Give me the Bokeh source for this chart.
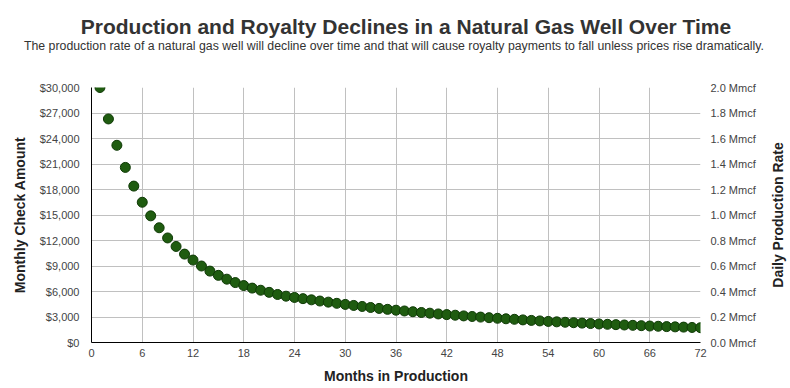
from bokeh.plotting import figure
from bokeh.models import (Range1d, LinearAxis, FixedTicker, NumeralTickFormatter,
                          PrintfTickFormatter, Div)
from bokeh.layouts import column, row
from bokeh.embed import file_html
from bokeh.resources import INLINE

months = list(range(1, 73))
check_amount = [
    30000, 26300, 23200, 20600, 18400, 16500, 14900, 13500, 12300, 11300,
    10400, 9700, 9000, 8400, 7900, 7450, 7050, 6700, 6400, 6150,
    5900, 5650, 5450, 5300, 5160, 5020, 4880, 4750, 4610, 4480,
    4360, 4240, 4120, 4010, 3900, 3800, 3710, 3620, 3530, 3450,
    3360, 3280, 3210, 3130, 3060, 2990, 2920, 2850, 2790, 2730,
    2660, 2600, 2540, 2480, 2430, 2380, 2330, 2280, 2230, 2180,
    2140, 2100, 2060, 2020, 1980, 1940, 1910, 1870, 1840, 1810,
    1770, 1740,
]
x_ticks = [0, 6, 12, 18, 24, 30, 36, 42, 48, 54, 60, 66, 72]
y_ticks = [0, 3000, 6000, 9000, 12000, 15000, 18000, 21000, 24000, 27000, 30000]
rate_ticks = [0.0, 0.2, 0.4, 0.6, 0.8, 1.0, 1.2, 1.4, 1.6, 1.8, 2.0]

title_text = "Production and Royalty Declines in a Natural Gas Well Over Time"
subtitle_text = ("The production rate of a natural gas well will decline over time and that "
                 "will cause royalty payments to fall unless prices rise dramatically.")
x_label = "Months in Production"
y_left_label = "Monthly Check Amount"
y_right_label = "Daily Production Rate"

FONT = "Liberation Sans"

# ---- titles (HTML block above the plot) ----
title_div = Div(
    width=790, height=56, margin=0,
    text=(f"<div style=\"position:relative;left:11px;top:15px;width:790px;text-align:center;"
          f"font-family:'{FONT}';font-weight:bold;font-size:21px;line-height:24px;"
          f"color:#333333;white-space:nowrap;\">{title_text}</div>"
          f"<div style=\"position:relative;left:-1px;top:15px;width:790px;text-align:center;"
          f"font-family:'{FONT}';font-size:12.3px;line-height:14px;"
          f"color:#333333;white-space:nowrap;\">{subtitle_text}</div>"),
)

# ---- main plot ----
p = figure(width=760, height=332, output_backend="svg", toolbar_location=None,
           x_range=Range1d(0, 72), y_range=Range1d(0, 30000),
           min_border_left=91, min_border_right=60, min_border_top=31, min_border_bottom=46,
           title=None, margin=0)
p.outline_line_color = None
p.background_fill_color = "white"
p.extra_y_ranges = {"rate": Range1d(0, 2.0)}

def style_axis(ax):
    ax.major_label_text_font = FONT
    ax.major_label_text_font_size = "11px"
    ax.major_label_text_color = "#444444"
    ax.major_tick_line_color = None
    ax.minor_tick_line_color = None
    ax.major_tick_out = 0
    ax.major_tick_in = 0
    ax.minor_tick_out = 0
    ax.minor_tick_in = 0

def style_label(ax, label):
    ax.axis_label = label
    ax.axis_label_text_font = FONT
    ax.axis_label_text_font_size = "14px"
    ax.axis_label_text_font_style = "bold"
    ax.axis_label_text_color = "#222222"

yl = p.yaxis[0]
yl.ticker = FixedTicker(ticks=y_ticks)
yl.formatter = NumeralTickFormatter(format="$0,0")
style_axis(yl)
style_label(yl, y_left_label)
yl.axis_line_color = "black"
yl.major_label_standoff = 12
yl.axis_label_standoff = 9

xb = p.xaxis[0]
xb.ticker = FixedTicker(ticks=x_ticks)
style_axis(xb)
style_label(xb, x_label)
xb.axis_line_color = "black"
xb.major_label_standoff = 6
xb.axis_label_standoff = 8

yr = LinearAxis(y_range_name="rate", ticker=FixedTicker(ticks=rate_ticks),
                formatter=PrintfTickFormatter(format="%.1f Mmcf"))
style_axis(yr)
yr.axis_line_color = None
yr.major_label_standoff = 10
p.add_layout(yr, "right")

p.xgrid.ticker = FixedTicker(ticks=x_ticks)
p.ygrid.ticker = FixedTicker(ticks=y_ticks)
p.xgrid.grid_line_color = "#c0c0c0"
p.ygrid.grid_line_color = "#c0c0c0"

p.scatter(months, check_amount, size=10, fill_color="#1f5c10", line_color="#0f3a06",
          line_width=1)

# ---- right axis title (rotated, reads bottom to top) ----
right_div = Div(
    width=30, height=332, margin=0,
    text=(f"<div style=\"width:318px;height:30px;line-height:30px;text-align:center;"
          f"transform-origin:0 0;transform:translate(3px,318px) rotate(-90deg);"
          f"font-family:'{FONT}';font-weight:bold;font-size:14px;color:#222222;"
          f"white-space:nowrap;\">{y_right_label}</div>"),
)

layout = column(title_div, row(p, right_div, spacing=0), spacing=0)

open("out.html", "w").write(file_html(layout, INLINE))
